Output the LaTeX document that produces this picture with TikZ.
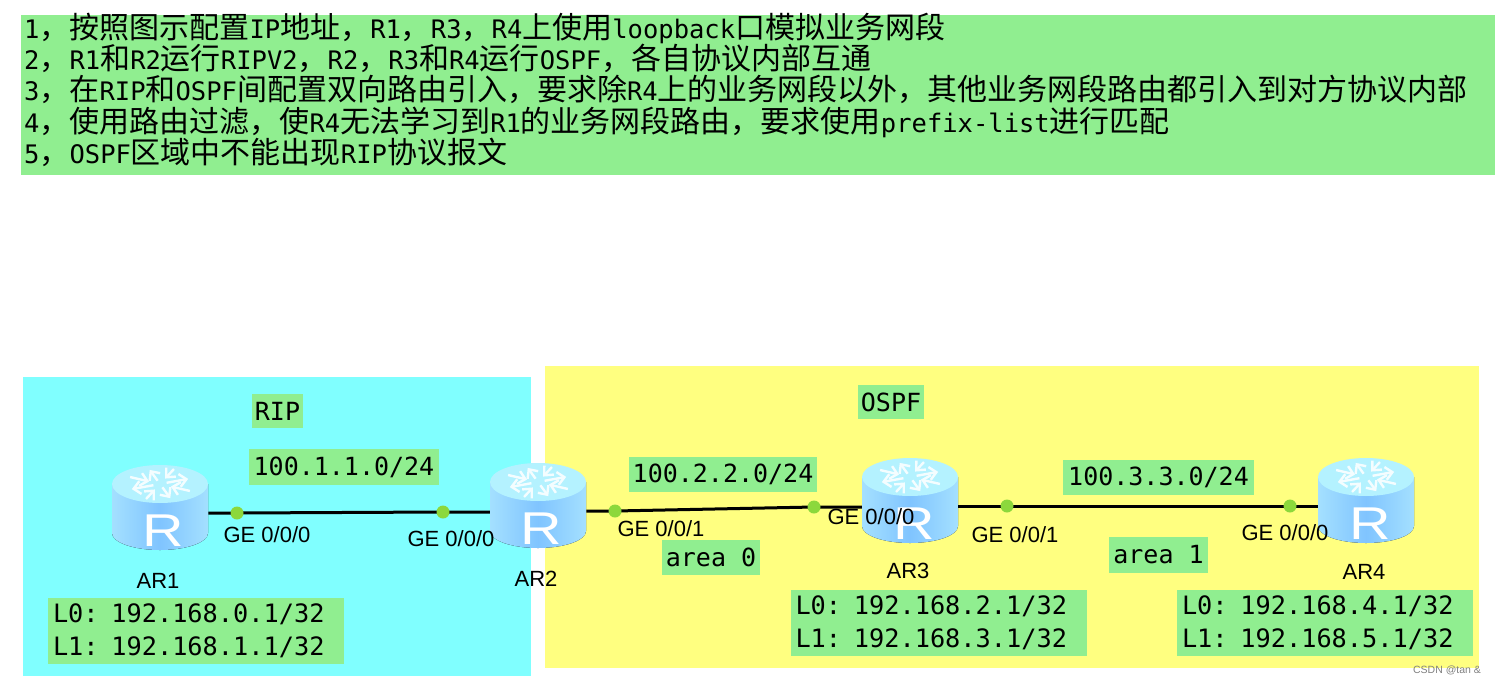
\documentclass[tikz,border=0pt]{standalone}
\usepackage{fontspec}
\usetikzlibrary{arrows.meta}
\newfontfamily\cjk{Noto Sans CJK SC}
\newfontfamily\labelfont{DejaVu Sans Mono}
\newfontfamily\portfont{Liberation Sans}
\newcommand{\zh}[1]{{\cjk\fontsize{30}{30}\selectfont #1}}
\definecolor{Green}{HTML}{90EE90}
\definecolor{Cyan}{HTML}{80FFFF}
\definecolor{Yellow}{HTML}{FFFF80}
\definecolor{Port}{HTML}{8CD83C}
\definecolor{Side}{HTML}{80C4FF}
\definecolor{Edge}{HTML}{A4E0FF}
\definecolor{Top}{HTML}{B4F2FF}
\tikzset{
    zone/.style={rectangle, inner sep=0pt, anchor=north west},
    taskline/.style={anchor=base west, inner sep=0pt, font=\labelfont\fontsize{25.5}{30}\selectfont},
    labelbox/.style={rectangle, fill=Green, inner sep=0pt, align=left, font=\labelfont\fontsize{25}{33}\selectfont},
    loopbox/.style={labelbox, text width=286pt, inner xsep=5pt, minimum height=66pt, font=\labelfont\fontsize{25.3}{33}\selectfont},
    portname/.style={inner sep=0pt, font=\portfont\fontsize{22}{22}\selectfont},
    routername/.style={inner sep=0pt, font=\portfont\fontsize{22}{22}\selectfont},
    port/.style={circle, fill=Port, minimum size=13pt, inner sep=0pt},
    link/.style={line width=3pt, color=black},
    routermark/.style={-{Straight Barb[length=7pt,width=13pt]}, white!85!Top, line width=2.4pt},
    router/.style={rectangle, minimum width=76.8pt, minimum height=86pt, inner sep=0pt, xscale=1.25,
        text=white, text height=78pt, text depth=0pt, font=\portfont\fontsize{46}{46}\selectfont},
    routerart/.pic={
        \fill[left color=Edge, right color=Edge, middle color=Side]
            (-48,-23) -- (-48,26) arc[start angle=180, end angle=0, x radius=48, y radius=17] -- (48,-23) -- cycle;
        \fill[Top] (0,-23) ellipse[x radius=48, y radius=19];
        \begin{scope}[shift={(0,-23)}, yscale=0.5]
            \foreach \ang in {20,110,200,290} {
                \draw[routermark, rotate=\ang] (7,0) -- (30,0);
                \draw[routermark, rotate=\ang+45] (33,0) -- (12,0);
            }
        \end{scope}
    },
}
\begin{document}
\begin{tikzpicture}[x=1pt, y=-1pt]
    \useasboundingbox (0,0) rectangle (1496,683);
    % task list
    \node[zone, fill=Green, minimum width=1474pt, minimum height=160pt] (tasks) at (21,15) {};
    \node[taskline] (line1) at (24,38) {1\zh{，按照图示配置}IP\zh{地址，}R1\zh{，}R3\zh{，}R4\zh{上使用}loopback\zh{口模拟业务网段}};
    \node[taskline] (line2) at (24,69) {2\zh{，}R1\zh{和}R2\zh{运行}RIPV2\zh{，}R2\zh{，}R3\zh{和}R4\zh{运行}OSPF\zh{，各自协议内部互通}};
    \node[taskline] (line3) at (24,100) {3\zh{，在}RIP\zh{和}OSPF\zh{间配置双向路由引入，要求除}R4\zh{上的业务网段以外，其他业务网段路由都引入到对方协议内部}};
    \node[taskline] (line4) at (24,132) {4\zh{，使用路由过滤，使}R4\zh{无法学习到}R1\zh{的业务网段路由，要求使用}prefix-list\zh{进行匹配}};
    \node[taskline] (line5) at (24,163) {5\zh{，}OSPF\zh{区域中不能出现}RIP\zh{协议报文}};
    % zones
    \node[zone, fill=Cyan, minimum width=508pt, minimum height=299pt] (ripzone) at (23,377) {};
    \node[zone, fill=Yellow, minimum width=934pt, minimum height=302pt] (ospfzone) at (545,366) {};
    % labels
    \node[labelbox, minimum width=51pt, minimum height=34pt] (rip) at (277.5,411) {RIP};
    \node[labelbox, minimum width=66pt, minimum height=34pt] (ospf) at (891,402) {OSPF};
    \node[labelbox, minimum width=190pt, minimum height=36pt] (net1) at (344,467) {100.1.1.0/24};
    \node[labelbox, minimum width=188pt, minimum height=35pt] (net2) at (723,474.5) {100.2.2.0/24};
    \node[labelbox, minimum width=191pt, minimum height=35pt] (net3) at (1158.5,477.5) {100.3.3.0/24};
    \node[labelbox, minimum width=98pt, minimum height=35pt] (area0) at (711,557.5) {area 0};
    \node[labelbox, minimum width=99pt, minimum height=36pt] (area1) at (1158.5,555) {area 1};
    \node[loopbox] (loop1) at (196,631) {L0: 192.168.0.1/32\\L1: 192.168.1.1/32};
    \node[loopbox] (loop3) at (938.5,623) {L0: 192.168.2.1/32\\L1: 192.168.3.1/32};
    \node[loopbox] (loop4) at (1325,623) {L0: 192.168.4.1/32\\L1: 192.168.5.1/32};
    % routers
    \foreach \r/\x/\y in {AR1/160/507, AR2/538/505, AR3/910/500, AR4/1366/500} {
        \pic at (\x,\y) {routerart};
        \node[router] (\r) at (\x,\y) {\hspace*{6pt}R};
    }
    \node[routername] (name1) at (158,581) {AR1};
    \node[routername] (name2) at (536,579) {AR2};
    \node[routername] (name3) at (908,571) {AR3};
    \node[routername] (name4) at (1364,572) {AR4};
    % links
    \coordinate (p11) at (237,513);
    \coordinate (p21) at (443,512);
    \coordinate (p22) at (615,511);
    \coordinate (p31) at (814,507);
    \coordinate (p32) at (1007,506);
    \coordinate (p41) at (1290,506);
    \draw[link] (AR1.east |- p11) -- (p11) -- (p21) -- (AR2.west |- p21);
    \draw[link] (AR2.east |- p22) -- (p22) -- (p31) -- (AR3.west |- p31);
    \draw[link] (AR3.east |- p32) -- (p32) -- (p41) -- (AR4.west |- p41);
    \foreach \p in {p11,p21,p22,p31,p32,p41} {
        \node[port] (dot\p) at (\p) {};
    }
    \node[portname] (ge11) at (267,535) {GE 0/0/0};
    \node[portname] (ge21) at (451,539) {GE 0/0/0};
    \node[portname] (ge22) at (661,529) {GE 0/0/1};
    \node[portname] (ge31) at (871,517) {GE 0/0/0};
    \node[portname] (ge32) at (1015,535) {GE 0/0/1};
    \node[portname] (ge41) at (1285,533) {GE 0/0/0};
    \node[inner sep=0pt, text=gray, font=\portfont\fontsize{10.5}{10.5}\selectfont] (mark) at (1447,670) {CSDN @tan \&};
\end{tikzpicture}
\end{document}
